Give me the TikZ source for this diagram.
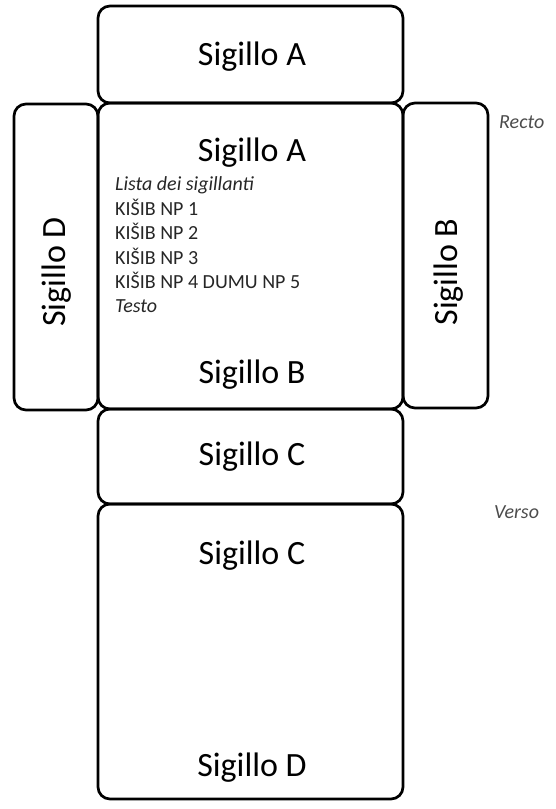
\documentclass[tikz,border=0pt]{standalone}
\usepackage{fontspec}
\setmainfont{Carlito}

\begin{document}
\begin{tikzpicture}[x=1pt, y=-1pt,
    panel/.style={draw, line width=2.7pt, rounded corners=12pt},
    seal/.style={font=\fontsize{34}{40}\selectfont, inner sep=0pt, anchor=base},
    entry/.style={font=\fontsize{20}{24}\selectfont, text=black!85, inner sep=0pt, anchor=base west},
    face/.style={font=\fontsize{20}{24}\selectfont\itshape, text=black!70, inner sep=0pt, anchor=base west}]
  \useasboundingbox (0,0) rectangle (555,809);

  % flaps and faces
  \draw[panel] (98,6) rectangle (403,103);
  \draw[panel] (98,103) rectangle (403,409);
  \draw[panel] (14,104) rectangle (98,410);
  \draw[panel] (403,103) rectangle (488,408);
  \draw[panel] (98,409) rectangle (403,504);
  \draw[panel] (98,504) rectangle (403,799);

  % seals
  \node[seal] (topA) at (252,65) {Sigillo A};
  \node[seal] (midA) at (252,161) {Sigillo A};
  \node[seal] (midB) at (252,383) {Sigillo B};
  \node[seal, rotate=90] (leftD) at (65,272) {Sigillo D};
  \node[seal, rotate=90] (rightB) at (457,272) {Sigillo B};
  \node[seal] (flapC) at (252,465) {Sigillo C};
  \node[seal] (backC) at (252,564) {Sigillo C};
  \node[seal] (backD) at (252,776) {Sigillo D};

  % text on the recto
  \node[entry, font=\fontsize{20}{24}\selectfont\itshape] (list) at (115,190) {Lista dei sigillanti};
  \node[entry] (np1) at (115,215) {KIŠIB NP 1};
  \node[entry] (np2) at (115,239) {KIŠIB NP 2};
  \node[entry] (np3) at (115,264) {KIŠIB NP 3};
  \node[entry] (np4) at (115,288) {KIŠIB NP 4 DUMU NP 5};
  \node[entry, font=\fontsize{20}{24}\selectfont\itshape] (text) at (115,312) {Testo};

  \node[face] (recto) at (499,128) {Recto};
  \node[face] (verso) at (494,518) {Verso};
\end{tikzpicture}
\end{document}
